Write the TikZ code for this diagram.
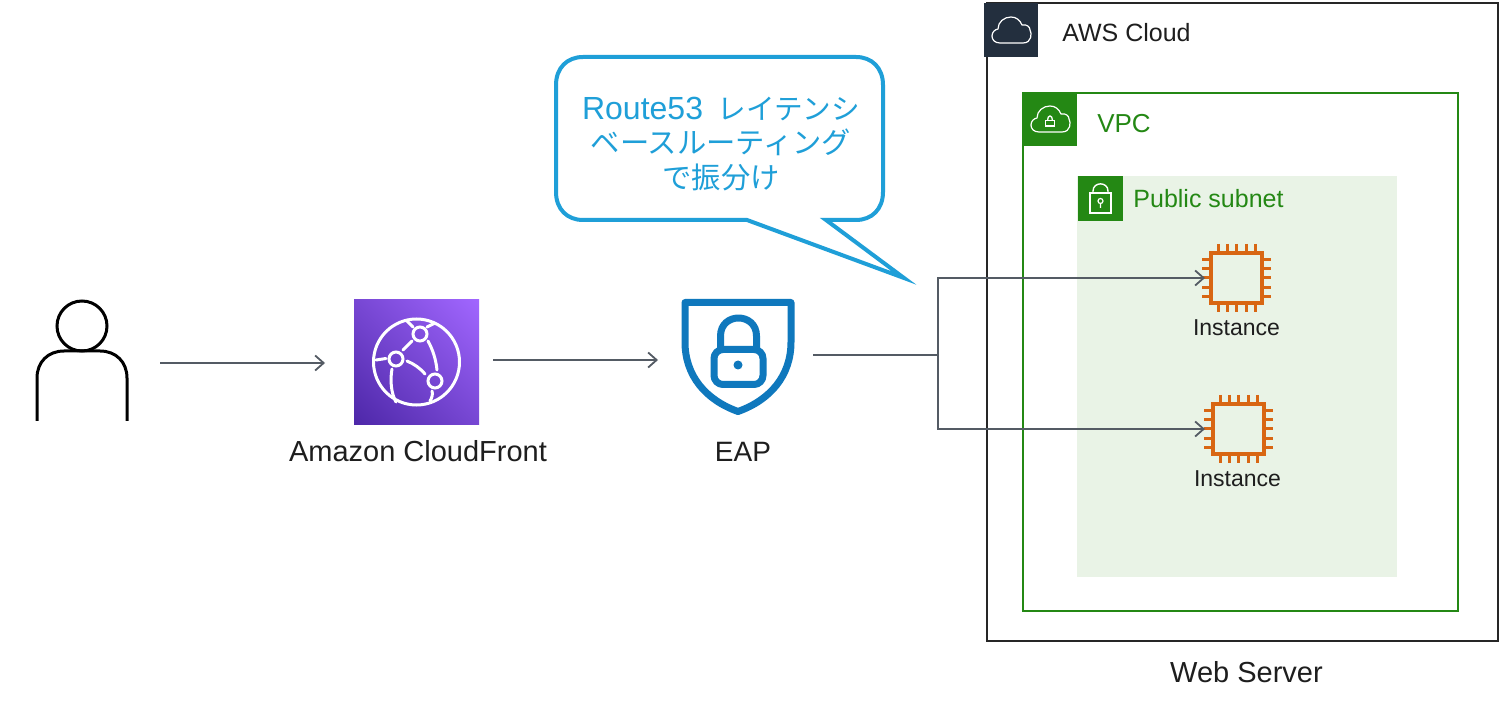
\documentclass[tikz,border=0pt]{standalone}
\usepackage{fontspec}
\setmainfont{Liberation Sans}
\newfontfamily\cjk{Noto Sans CJK JP}
\usetikzlibrary{arrows.meta,calc,shadings}
\definecolor{flowgray}{HTML}{545B64}
\definecolor{awsnavy}{HTML}{232F3E}
\definecolor{awsline}{HTML}{262626}
\definecolor{inktext}{HTML}{1E1E1E}
\definecolor{awsgreen}{HTML}{248814}
\definecolor{subnetbg}{HTML}{E9F3E6}
\definecolor{chiporange}{HTML}{D86613}
\definecolor{calloutblue}{HTML}{1F9FD8}
\definecolor{shieldblue}{HTML}{0F78BD}
\definecolor{cfdark}{HTML}{4D27A8}
\definecolor{cflight}{HTML}{A166FF}
\definecolor{cfmid}{HTML}{7747D3}
\newcommand{\fs}[1]{\fontsize{#1}{#1}\selectfont}
\newcommand{\cloudicon}{%
  \draw[white,line width=1.2pt,line join=round]
    (8,26) .. controls (3,26) and (0,23) .. (0,19)
    .. controls (0,15) and (3,12.5) .. (6,12)
    .. controls (6,5) and (12,0) .. (19,0)
    .. controls (24,0) and (28,3) .. (30,8)
    .. controls (35,7) and (38,10) .. (38,13)
    .. controls (40,16) and (40,26) .. (31,26) -- cycle;}
\newcommand{\chipicon}{%
  \draw[chiporange,line width=3.6pt] (-25.5,-25) rectangle (25.5,25);
  \foreach \t in {-18.5,-9.5,0,9.5,18.5}{
    \draw[chiporange,line width=3pt] (\t,-34) -- (\t,-25) (\t,25) -- (\t,34);
    \draw[chiporange,line width=3pt] (-34.5,\t) -- (-25.5,\t) (25.5,\t) -- (34.5,\t);}}
\tikzset{
  flow/.style={flowgray,line width=1.8pt,-{Straight Barb[length=8.5pt,width=15pt]}},
  flowline/.style={flowgray,line width=1.8pt},
  txt/.style={inner sep=0pt,anchor=base,text=#1},
  txt/.default=inktext,
  holder/.style={inner sep=0pt,outer sep=0pt,minimum width=#1},
  pinline/.style={white,line width=3pt,line cap=round},
}
\begin{document}
\begin{tikzpicture}[x=1pt,y=-1pt]
\useasboundingbox (0,0) rectangle (1500,708);
\fill[white] (0,0) rectangle (1500,708);

% AWS Cloud group
\node[draw=awsline,line width=2pt,inner sep=0pt,minimum width=511pt,minimum height=638pt] (aws) at (1242.5,322) {};
\node[fill=awsnavy,inner sep=0pt,minimum size=54pt] (awsicon) at (1011,30) {};
\begin{scope}[shift={(992,17)}]\cloudicon\end{scope}
\node[txt,font=\fs{25}] (awstext) at (1126.5,42) {AWS Cloud};

% VPC
\node[draw=awsgreen,line width=2pt,inner sep=0pt,minimum width=435pt,minimum height=518pt] (vpc) at (1240.5,352) {};
\node[fill=awsgreen,inner sep=0pt,minimum size=54pt] (vpcicon) at (1050,119) {};
\begin{scope}[shift={(1031,106)}]\cloudicon\end{scope}
\draw[white,line width=1.3pt] (1045.5,120.5) rectangle (1054.5,126);
\draw[white,line width=1.3pt] (1047.5,120.5) .. controls (1047.5,114.5) and (1052.5,114.5) .. (1052.5,120.5);
\node[txt=awsgreen,font=\fs{26}] (vpctext) at (1124,133) {VPC};

% Public subnet
\node[fill=subnetbg,inner sep=0pt,minimum width=320pt,minimum height=401pt] (subnet) at (1237,376.5) {};
\node[fill=awsgreen,inner sep=0pt,minimum size=45pt] (subneticon) at (1100.5,198.5) {};
\draw[white,line width=1.4pt] (1090,193) rectangle (1111,213);
\draw[white,line width=1.4pt] (1093,193) -- (1093,191) .. controls (1093,181.5) and (1108,181.5) .. (1108,191) -- (1108,193);
\draw[white,line width=1.2pt] (1100.5,201) circle (2.5pt) (1100.5,203.5) -- (1100.5,208);
\node[txt=awsgreen,font=\fs{25}] (subnettext) at (1208.5,208) {Public subnet};

% Instances
\node[holder=51pt,minimum height=50pt] (chipa) at (1236.5,278) {};
\begin{scope}[shift={(chipa.center)}]\chipicon\end{scope}
\node[txt,font=\fs{23}] (insta) at (1236.5,336) {Instance};
\node[holder=51pt,minimum height=50pt] (chipb) at (1238.5,429) {};
\begin{scope}[shift={(chipb.center)}]\chipicon\end{scope}
\node[txt,font=\fs{23}] (instb) at (1237.5,486) {Instance};

\node[txt,font=\fs{29}] (webtext) at (1246.5,682) {Web Server};

% User
\node[holder=90pt,minimum height=121pt] (user) at (82,360.5) {};
\draw[black,line width=3pt] (82,326) circle (25pt);
\draw[black,line width=3pt] (37,421) -- (37,378) .. controls (37,362) and (48,351) .. (64,351)
  -- (100,351) .. controls (116,351) and (127,362) .. (127,378) -- (127,421);

% CloudFront
\node[holder=125pt,minimum height=125pt] (cf) at (416.5,362.5) {};
\shade[lower left=cfdark,upper right=cflight,lower right=cfmid,upper left=cfmid] (354,300) rectangle (479,425);
\begin{scope}[pinline]
  \draw (416.5,362) circle (43pt);
  \draw (420,334) circle (7pt) (396,359) circle (7pt) (435,381) circle (7pt);
  \draw (403,350) -- (412,341);
  \draw (428,341) .. controls (433,350) and (436,360) .. (437,370);
  \draw (407,361) .. controls (414,364) and (420,368) .. (425,374);
  \draw (392,369) .. controls (390,380) and (391,393) .. (396,402);
  \draw (376,360) -- (386,358.5);
  \draw (407,321) -- (413,327) (427,327) -- (435,323);
  \draw (432,391) .. controls (433,394) and (432,398) .. (430,401);
\end{scope}
\node[txt,font=\fs{29}] (cftext) at (418,461) {Amazon CloudFront};

% EAP shield
\node[holder=111pt,minimum height=115pt] (eap) at (737.5,357.5) {};
\begin{scope}[shieldblue,line width=7pt,line join=round]
  \draw (685,302.5) -- (791,302.5) -- (791,342)
    .. controls (791,376) and (770,400) .. (738,411.5)
    .. controls (706,400) and (685,376) .. (685,342) -- cycle;
  \draw[rounded corners=9pt] (714,349.5) rectangle (763,384.5);
  \draw (720.5,349.5) -- (720.5,336) .. controls (720.5,312) and (756.5,312) .. (756.5,336) -- (756.5,349.5);
  \fill (738,365) circle (4.5pt);
\end{scope}
\node[txt,font=\fs{28}] (eaptext) at (743,461) {EAP};

% Connectors
\coordinate (junction) at (938,355);
\draw[flow,shorten <=33pt,shorten >=29pt] ([yshift=-2.5pt]user.east) -- ([yshift=-.5pt]cf.west);
\draw[flow,shorten <=14pt,shorten >=24pt] ([yshift=2.5pt]cf.east) -- ([yshift=2.5pt]cf.east -| eap.west);
\draw[flowline,shorten <=20pt] ([yshift=2.5pt]eap.east) -- (junction);
\draw[flow,shorten >=6pt] (junction) |- (chipa.west);
\draw[flow,shorten >=8pt] (junction) |- (chipb.west);

% Callout
\draw[calloutblue,line width=4pt,line join=miter,fill=white]
  (583,57) -- (856,57) .. controls (872,57) and (883,68) .. (883,85)
  -- (883,192) .. controls (883,209) and (872,220) .. (856,220)
  -- (826,220) -- (904,278) -- (747,220)
  -- (583,220) .. controls (567,220) and (556,209) .. (556,192)
  -- (556,85) .. controls (556,68) and (567,57) .. (583,57) -- cycle;
\node[txt=calloutblue,font=\fs{32}] (calla) at (721,119.5) {Route53\hspace{.45em}{\cjk\fs{28.6}レイテンシ}};
\node[txt=calloutblue,font=\cjk\fs{29.3}] (callb) at (721,154) {ベースルーティング};
\node[txt=calloutblue,font=\cjk\fs{29.3}] (callc) at (721,189) {で振分け};
\end{tikzpicture}
\end{document}
